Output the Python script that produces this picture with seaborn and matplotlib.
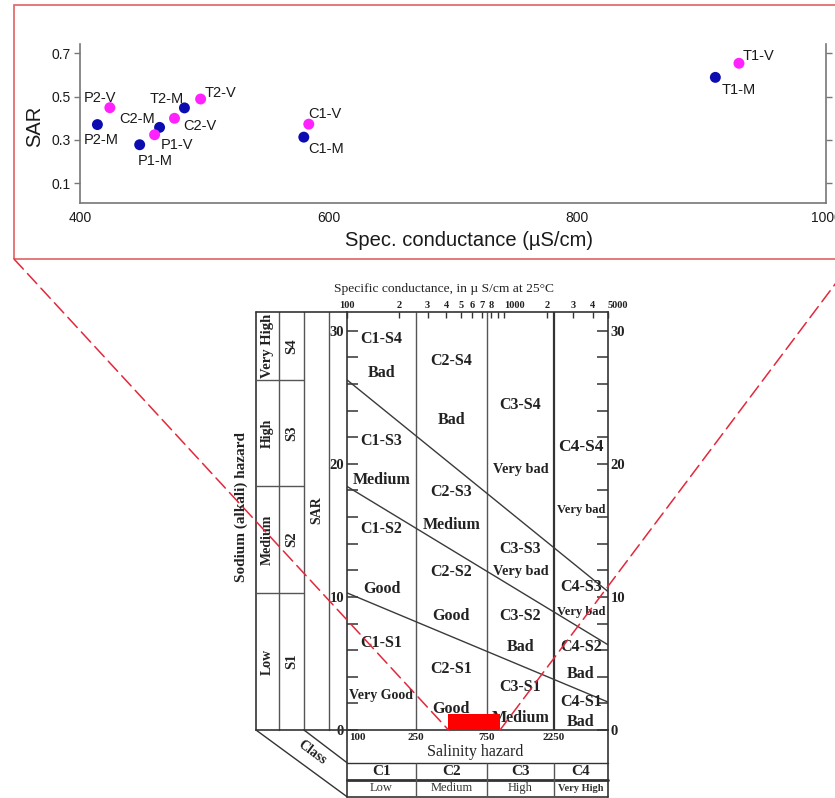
import numpy as np
import pandas as pd
import matplotlib
matplotlib.use("Agg")
import matplotlib.pyplot as plt
import seaborn as sns
from matplotlib.patches import Rectangle, ConnectionPatch
from matplotlib.ticker import FixedLocator, NullLocator

# ------------------------------------------------------------------ data
sites = ["P2", "P1", "C2", "T2", "C1", "T1"]
cond_M = [414, 448, 464, 484, 580, 911]            # µS/cm, series M
sar_M = [0.371, 0.278, 0.358, 0.448, 0.313, 0.589]
cond_V = [424, 460, 476, 497, 584, 930]            # µS/cm, series V
sar_V = [0.449, 0.324, 0.400, 0.489, 0.373, 0.654]

top_xticks = [400, 600, 800, 1000]
top_yticks = [0.1, 0.3, 0.5, 0.7]

# Wilcox (USSL) diagram
class_bounds = [100, 250, 750, 2250, 5000]
class_names = ["C1", "C2", "C3", "C4"]
class_levels = ["Low", "Medium", "High", "Very High"]
sodium_names = ["S1", "S2", "S3", "S4"]
sodium_levels = ["Low", "Medium", "High", "Very High"]
line_sar_left = [10.3, 18.3, 26.3]    # S1/S2, S2/S3, S3/S4 boundaries at 100 µS/cm
line_sar_right = [2.1, 6.4, 10.4]     # same boundaries at 5000 µS/cm
cond_ticks = [100, 200, 300, 400, 500, 600, 700, 800, 900, 1000, 2000, 3000, 4000, 5000]
cond_tick_labels = ["100", "2", "3", "4", "5", "6", "7", "8", "", "1000", "2", "3", "4", "5000"]
sar_major = [0, 10, 20, 30]
sar_minor = [2, 4, 6, 8, 12, 14, 16, 18, 22, 24, 26, 28]
quality = {  # S1..S4 for each class
    "C1": ["Very Good", "Good", "Medium", "Bad"],
    "C2": ["Good", "Good", "Medium", "Bad"],
    "C3": ["Medium", "Bad", "Very bad", "Very bad"],
    "C4": ["Bad", "Bad", "Very bad", "Very bad"],
}

# ------------------------------------------------------------------ layout / style
W, H = 835, 798
def box(l, t, r, b):
    return [l / W, 1 - b / H, (r - l) / W, (b - t) / H]

# the diagram's conductance axis: log within each class, class columns of the template's widths
class_col_edges = [0.0, 0.264, 0.536, 0.793, 1.0]
LOGB = np.log10(class_bounds)
def fwd(x):
    return np.interp(np.log10(np.maximum(np.asarray(x, float), 1e-9)), LOGB, class_col_edges)
def inv(u):
    return 10 ** np.interp(np.asarray(u, float), class_col_edges, LOGB)

label_offsets = {  # text offset from point, pixels
    "P2-M": (4, -15), "P2-V": (-10, 10), "P1-M": (16, -16), "P1-V": (22, -10),
    "C2-M": (-22, 8), "C2-V": (25, -8), "T2-M": (-18, 9), "T2-V": (20, 6),
    "C1-M": (22, -12), "C1-V": (16, 10), "T1-M": (23, -13), "T1-V": (20, 7),
}
code_y = {"C1": [6.5, 15.1, 21.7, 29.4], "C2": [4.55, 11.9, 17.9, 27.7],
          "C3": [3.25, 8.6, 13.6, 24.4], "C4": [2.1, 6.25, 10.75, 21.25]}
qual_y = {"C1": [2.6, 10.6, 18.8, 26.8], "C2": [1.6, 8.6, 15.4, 23.3],
          "C3": [0.9, 6.25, 11.9, 19.6], "C4": [0.6, 4.2, 8.9, 16.5]}

sns.set_style("white")
plt.rcParams["font.family"] = ["Liberation Sans", "DejaVu Sans"]
SERIF = ["Liberation Serif", "DejaVu Serif"]
INK = "#333333"

fig = plt.figure(figsize=(W / 100, H / 100), dpi=100)

# ------------------------------------------------------------------ top scatter
ax1 = fig.add_axes(box(80, 44, 826, 203))
df = pd.DataFrame({
    "cond": cond_M + cond_V,
    "SAR": sar_M + sar_V,
    "series": ["M"] * len(sites) + ["V"] * len(sites),
    "label": [f"{s}-M" for s in sites] + [f"{s}-V" for s in sites],
})
sns.scatterplot(data=df, x="cond", y="SAR", hue="series",
                palette={"M": "#0c0cb0", "V": "#ff22ff"}, s=62, linewidth=0,
                legend=False, ax=ax1, zorder=3)
for _, r in df.iterrows():
    dx, dy = label_offsets[r["label"]]
    ax1.annotate(r["label"], (r["cond"], r["SAR"]), xytext=(dx, dy),
                 textcoords="offset pixels", ha="center", va="center",
                 fontsize=10.5, color="#1a1a1a")
ax1.set_xlim(400, 1000)
ax1.set_ylim(0.009, 0.743)
ax1.set_xticks(top_xticks)
ax1.set_yticks(top_yticks)
ax1.set_yticklabels([f"{v:.1f}" for v in top_yticks])
ax1.tick_params(axis="x", length=0, pad=6, labelsize=10, labelcolor="#1a1a1a")
ax1.tick_params(axis="y", left=True, right=True, direction="out", length=4,
                width=1, color="#777777", labelsize=10, pad=3, labelcolor="#1a1a1a")
for side in ["left", "right", "bottom"]:
    ax1.spines[side].set_color("#777777")
    ax1.spines[side].set_linewidth(1.2)
ax1.spines["top"].set_visible(False)
ax1.set_xlabel("Spec. conductance (µS/cm)", fontsize=14.5, color="#1a1a1a")
ax1.set_ylabel("SAR", fontsize=14.5, color="#1a1a1a")
ax1.xaxis.set_label_coords(0.521, -0.233)
ax1.xaxis.label.set_va("center")
ax1.yaxis.set_label_coords(-0.061, 0.484)
ax1.yaxis.label.set_va("center")

fig.add_artist(Rectangle((14 / W, 1 - 259 / H), (900 - 14) / W, (259 - 5) / H,
                         transform=fig.transFigure, fill=False,
                         edgecolor="#e06262", lw=1.2))

# ------------------------------------------------------------------ Wilcox diagram
ax2 = fig.add_axes(box(347, 312, 608, 730))
ax2.set_facecolor("none")
ax2.set_xscale("function", functions=(fwd, inv))
ax2.set_xlim(class_bounds[0], class_bounds[-1])
ymax = 31.4
ax2.set_ylim(0, ymax)
ax2.xaxis.set_major_locator(FixedLocator(cond_ticks))
ax2.xaxis.set_minor_locator(NullLocator())
ax2.set_xticklabels(cond_tick_labels)
ax2.xaxis.tick_top()
ax2.tick_params(axis="x", direction="in", length=4, width=1, color=INK, pad=1.5,
                labelsize=7.5, labelcolor="#222222")
ax2.set_yticks(sar_major)
ax2.yaxis.set_minor_locator(FixedLocator(sar_minor))
ax2.tick_params(axis="y", which="both", direction="in", length=8, width=1.1,
                color=INK, left=True, right=True, labelleft=True,
                labelright=True, labelsize=10.5, pad=2, labelcolor="#222222")
for lbl in ax2.get_xticklabels() + ax2.get_yticklabels():
    lbl.set_family(SERIF)
    lbl.set_fontweight("bold")
for lbl in ax2.get_xticklabels():
    if lbl.get_text() in ("1000", "5000"):
        lbl.set_horizontalalignment("left")
for sp in ax2.spines.values():
    sp.set_color(INK)
    sp.set_linewidth(1.2)

# class boundaries
ax2.vlines(class_bounds[1:3], 0, ymax, colors="#555555", lw=1.0)
ax2.vlines(class_bounds[3], 0, ymax, colors="#333333", lw=1.6)
# sodium-hazard boundary lines (straight in the diagram)
for l, r in zip(line_sar_left, line_sar_right):
    ax2.plot([0, 1], [l, r], transform=ax2.get_yaxis_transform(),
             color="#3a3a3a", lw=1.0)

# red bar: conductance range of the samples
all_cond = cond_M + cond_V
cmin, cmax = min(all_cond), max(all_cond)
ax2.fill_between([cmin, cmax], 0, 1.2, color="#ff0000", lw=0, zorder=4)

# region labels
centers = [inv((class_col_edges[i] + class_col_edges[i + 1]) / 2) for i in range(4)]
for i, c in enumerate(class_names):
    for j, s in enumerate(sodium_names):
        csize = 12.5 if (c == "C4" and s == "S4") else 11.5
        ax2.text(centers[i], code_y[c][j], f"{c}-{s}", ha="center", va="center",
                 family=SERIF, fontweight="bold", fontsize=csize, color="#222222")
        q = quality[c][j]
        if q == "Very bad":
            qs = 9 if c == "C4" else 10.3
        elif q == "Very Good":
            qs = 10
        else:
            qs = 11.5
        ax2.text(centers[i], qual_y[c][j], q, ha="center", va="center",
                 family=SERIF, fontweight="bold", fontsize=qs, color="#222222")

ax2.text(0.3716, 1.055, "Specific conductance, in µ S/cm at 25°C",
         transform=ax2.transAxes, ha="center", va="center", family=SERIF,
         fontsize=9.7, color="#222222")

# left sodium-hazard table
yt = ax2.get_yaxis_transform()   # x: axes, y: SAR
cols = [-0.3487, -0.2594, -0.1648, -0.069, 0.0]
for cx in cols[1:-1]:
    ax2.plot([cx, cx], [0, 1], transform=ax2.transAxes, color="#555555",
             lw=1.0, clip_on=False)
ax2.plot([cols[0], cols[0]], [0, 1], transform=ax2.transAxes, color=INK,
         lw=1.2, clip_on=False)
ax2.plot([cols[0], 0], [1, 1], transform=ax2.transAxes, color=INK, lw=1.2, clip_on=False)
ax2.plot([cols[0], 0], [0, 0], transform=ax2.transAxes, color=INK, lw=1.2, clip_on=False)
for yb in line_sar_left:
    ax2.plot([cols[0], cols[2]], [yb, yb], transform=yt, color="#555555",
             lw=1.0, clip_on=False)
row_edges = [0] + line_sar_left + [ymax]
for k in range(4):
    ym = (row_edges[k] + row_edges[k + 1]) / 2
    ax2.text((cols[0] + cols[1]) / 2, ym, sodium_levels[k], transform=yt,
             rotation=90, ha="center", va="center", family=SERIF,
             fontweight="bold", fontsize=10.5 if k == 3 else 10, color="#222222")
    ax2.text((cols[1] + cols[2]) / 2, ym, sodium_names[k], transform=yt,
             rotation=90, ha="center", va="center", family=SERIF,
             fontweight="bold", fontsize=10.5, color="#222222")
ax2.text((cols[2] + cols[3]) / 2, 16.5, "SAR", transform=yt, rotation=90,
         ha="center", va="center", family=SERIF, fontweight="bold",
         fontsize=10, color="#222222")
ax2.text(-0.406, 16.75, "Sodium (alkali) hazard", transform=yt, rotation=90,
         ha="center", va="center", family=SERIF, fontweight="bold",
         fontsize=11, color="#222222")

# bottom salinity-hazard table
xt = ax2.get_xaxis_transform()   # x: conductance, y: axes
r1, r2, r3 = -0.0782, -0.1196, -0.1596
ax2.plot([0, 0], [0, r3], transform=ax2.transAxes, color=INK, lw=1.2, clip_on=False)
ax2.plot([1, 1], [0, r3], transform=ax2.transAxes, color=INK, lw=1.2, clip_on=False)
ax2.plot([0, 1], [r1, r1], transform=ax2.transAxes, color=INK, lw=1.0, clip_on=False)
ax2.plot([0, 1], [r2, r2], transform=ax2.transAxes, color=INK, lw=2.0, clip_on=False)
ax2.plot([0, 1], [r3, r3], transform=ax2.transAxes, color=INK, lw=1.2, clip_on=False)
ax2.vlines(class_bounds[1:-1], r3, r1, transform=xt, colors="#555555", lw=1.0,
           clip_on=False)
ax2.plot([cols[0], 0], [0, r3], transform=ax2.transAxes, color=INK, lw=1.0, clip_on=False)
ax2.plot([cols[2], 0], [0, r1], transform=ax2.transAxes, color=INK, lw=1.0, clip_on=False)
ax2.text(-0.135, -0.055, "Class", transform=ax2.transAxes, rotation=-36.5,
         ha="center", va="center", family=SERIF, fontweight="bold",
         fontsize=10, color="#222222", rotation_mode="anchor")
for k, b in enumerate(class_bounds[:-1]):
    ax2.text(b * (1.035 if k == 0 else 1.0), -0.019, str(b), transform=xt,
             ha="left" if k == 0 else "center", va="center", family=SERIF,
             fontweight="bold", fontsize=8, color="#222222")
ax2.text(0.49, -0.0526, "Salinity hazard", transform=ax2.transAxes,
         ha="center", va="center", family=SERIF, fontsize=11.5, color="#222222")
for i in range(4):
    ax2.text(centers[i], (r1 + r2) / 2, class_names[i], transform=xt,
             ha="center", va="center", family=SERIF, fontweight="bold",
             fontsize=11, color="#222222")
    lv = class_levels[i]
    ax2.text(centers[i], (r2 + r3) / 2, lv, transform=xt, ha="center",
             va="center", family=SERIF,
             fontweight="bold" if lv == "Very High" else "normal",
             fontsize=7.5 if lv == "Very High" else 9, color="#333333")

# dashed zoom lines from the scatter frame to the red bar
for xa, xb in [(14 / W, cmin), (854 / W, cmax)]:
    con = ConnectionPatch(xyA=(xa, 1 - 259 / H), coordsA="figure fraction",
                          xyB=(xb, 0), coordsB=ax2.transData,
                          color="#e2283a", lw=1.1, linestyle=(0, (9, 4)),
                          clip_on=False)
    fig.add_artist(con)

fig.savefig("out.png", dpi=100)
